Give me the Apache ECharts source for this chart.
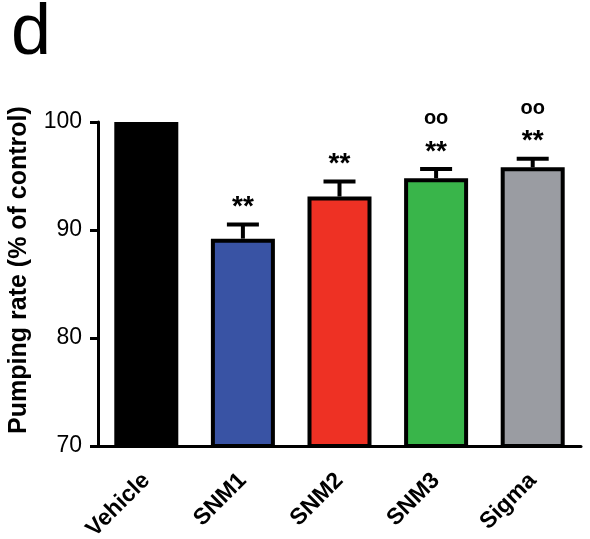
<!DOCTYPE html>
<html>
<head>
<meta charset="utf-8">
<script src="https://cdn.jsdelivr.net/npm/echarts@6/dist/echarts.min.js"></script>
<style>html,body{margin:0;padding:0;background:#fff}#c{width:590px;height:539px}</style>
</head>
<body>
<div id="c"></div>
<script>
var categories = ['Vehicle', 'SNM1', 'SNM2', 'SNM3', 'Sigma'];
var values = [100, 89.2, 93.1, 94.8, 95.8];
var errors = [0, 1.3, 1.4, 0.85, 0.8];
var stars = ['', '**', '**', '**', '**'];
var circles = ['', '', '', 'oo', 'oo'];
var colors = ['#000000', '#3953a4', '#ee3124', '#39b54a', '#9a9ca2'];
var yTicks = [70, 80, 90, 100];

var FONT = '"Liberation Sans", Arial, Helvetica, sans-serif';
var chart = echarts.init(document.getElementById('c'));

var barData = values.map(function (v, i) {
  return { value: v, itemStyle: { color: colors[i], borderColor: '#000', borderWidth: 4 } };
});
var errData = values.map(function (v, i) { return [i, v, errors[i], stars[i], circles[i]]; });

chart.setOption({
  animation: false,
  title: {
    text: 'd', left: 6, top: -7,
    textStyle: { fontFamily: FONT, fontSize: 72, fontWeight: 'normal', color: '#000' }
  },
  grid: { left: 98, right: 9, top: 122, bottom: 93, containLabel: false, outerBoundsMode: 'none' },
  xAxis: {
    type: 'category', data: categories,
    axisLine: { lineStyle: { color: '#000', width: 3 } },
    axisTick: { alignWithLabel: true, length: 9, lineStyle: { color: '#000', width: 3 } },
    axisLabel: { rotate: 45, margin: 31, fontFamily: FONT, fontSize: 23, fontWeight: 'bold', color: '#000' }
  },
  yAxis: {
    type: 'value', min: yTicks[0], max: yTicks[yTicks.length - 1], interval: 10,
    name: 'Pumping rate (% of control)', nameLocation: 'middle', nameGap: 66, nameRotate: 90,
    nameTextStyle: { fontFamily: FONT, fontSize: 25, fontWeight: 'bold', color: '#000', padding: [0, 0, 0, 28] },
    axisLine: { show: true, lineStyle: { color: '#000', width: 3 } },
    axisTick: { show: true, length: 8, lineStyle: { color: '#000', width: 3 } },
    axisLabel: { margin: 16, fontFamily: FONT, fontSize: 23, color: '#000' },
    splitLine: { show: false }
  },
  series: [
    { type: 'bar', data: barData, barWidth: 64, z: 2 },
    {
      type: 'custom', data: errData, z: 3,
      renderItem: function (params, api) {
        var i = api.value(0), v = api.value(1), e = api.value(2);
        var base = api.coord([i, v]);
        var top = api.coord([i, v + e]);
        var d = errData[params.dataIndex];
        var children = [];
        if (e > 0) {
          children.push({ type: 'line', shape: { x1: base[0], y1: base[1], x2: top[0], y2: top[1] }, style: { stroke: '#000', lineWidth: 4 } });
          children.push({ type: 'line', shape: { x1: top[0] - 16, y1: top[1], x2: top[0] + 16, y2: top[1] }, style: { stroke: '#000', lineWidth: 4 } });
        }
        if (d[3]) {
          children.push({ type: 'text', style: { text: d[3], x: top[0], y: top[1] - 17, align: 'center', verticalAlign: 'middle', fontFamily: FONT, fontSize: 28, fontWeight: 'bold', fill: '#000' } });
        }
        if (d[4]) {
          children.push({ type: 'text', style: { text: d[4], x: top[0], y: top[1] - 50, align: 'center', verticalAlign: 'middle', fontFamily: FONT, fontSize: 20, fontWeight: 'bold', fill: '#000' } });
        }
        return { type: 'group', children: children };
      }
    }
  ]
});
</script>
</body>
</html>
